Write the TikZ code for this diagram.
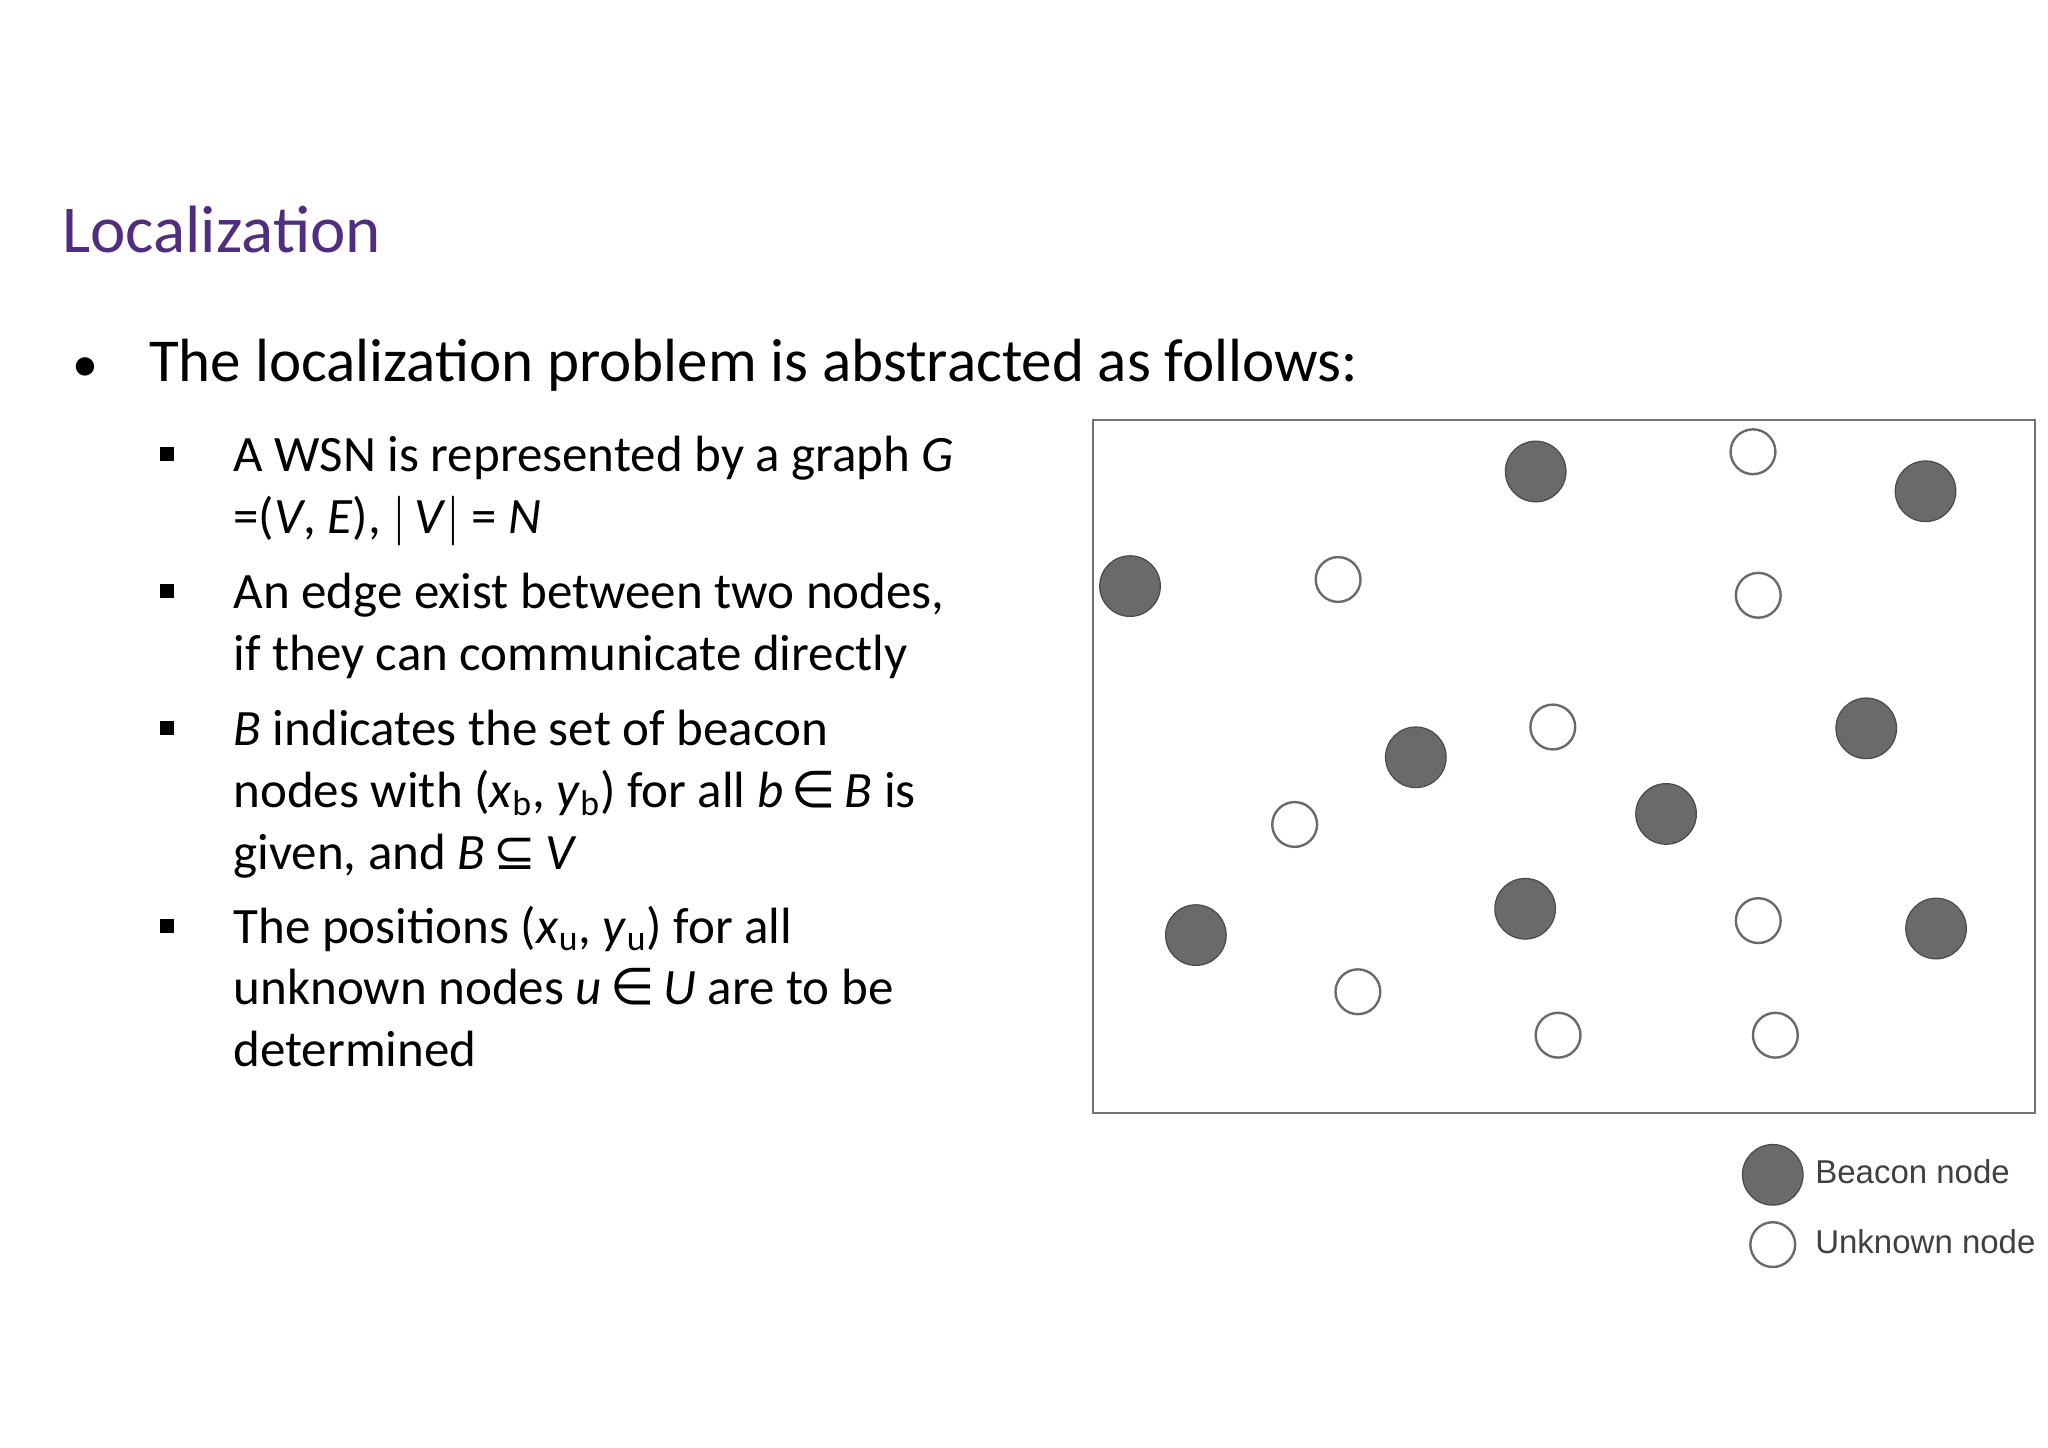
\documentclass[tikz,border=0pt]{standalone}
\usepackage{fontspec}
\setmainfont{Carlito}
\newfontfamily\arialf{Liberation Sans}
\newfontfamily\dejaf{DejaVu Sans}
\definecolor{titlec}{HTML}{4F2D7F}
\definecolor{beacon}{HTML}{6A6A6A}
\begin{document}
\begin{tikzpicture}[x=0.6585pt,y=-0.6585pt,
  txt/.style={anchor=base west,inner sep=0pt,font=\fontsize{25.5}{30}\selectfont},
  sq/.style={fill=black,minimum size=7pt,inner sep=0pt},
  bnode/.style={circle,fill=beacon,draw=beacon!70!black,line width=0.6pt,minimum size=30.3pt,inner sep=0pt},
  unode/.style={circle,fill=white,draw=beacon,line width=1.2pt,minimum size=22.4pt,inner sep=0pt},
  leg/.style={anchor=west,inner sep=0pt,font=\arialf\fontsize{16.5}{20}\selectfont,text=black!75}]
\useasboundingbox (0,0) rectangle (1555,1099);
\node[anchor=base west,inner sep=0pt,text=titlec,font=\fontsize{33.5}{40}\selectfont] (title) at (47,192) {Localization};
\node[anchor=base west,inner sep=0pt,font=\fontsize{26}{36}\selectfont] (b0) at (55,290) {\textbullet};
\node[anchor=base west,inner sep=0pt,font=\fontsize{30.5}{36}\selectfont] (main) at (113,290) {The localization problem is abstracted as follows:};
\foreach \y/\n in {345/s1,449/s2,553/s3,703/s4}{\node[sq] (\n) at (127,\y) {};}
\node[txt] (l1) at (177,358) {A WSN is represented by a graph \textit{G}};
\node[txt] (l2) at (177,405) {=(\textit{V}, \textit{E}), $|$\,\textit{V}$|$ = \textit{N}};
\node[txt] (l3) at (177,462) {An edge exist between two nodes,};
\node[txt] (l4) at (177,509) {if they can communicate directly};
\node[txt] (l5) at (177,566) {\textit{B} indicates the set of beacon};
\node[txt] (l6) at (177,613) {nodes with (\textit{x}\textsubscript{b}, \textit{y}\textsubscript{b}) for all \textit{b}\,{\dejaf ∈}\,\textit{B} is};
\node[txt] (l7) at (177,660) {given, and \textit{B}\,{\dejaf ⊆}\,\textit{V}};
\node[txt] (l8) at (177,716) {The positions (\textit{x}\textsubscript{u}, \textit{y}\textsubscript{u}) for all};
\node[txt] (l9) at (177,763) {unknown nodes \textit{u}\,{\dejaf ∈}\,\textit{U} are to be};
\node[txt] (l10) at (177,810) {determined};
\draw[draw=black!55,line width=1.3pt] (830,319) rectangle (1545,845);
\foreach \x/\y [count=\i] in {1166/358,1462/373,858/445,1075/575,1417/553,1265/618,908/710,1158/690,1470/705}
  \node[bnode] (bn\i) at (\x,\y) {};
\foreach \x/\y [count=\i] in {1331/343,1016/440,1335/452,1179/552,983/626,1335/699,1031/753,1183/786,1348/786}
  \node[unode] (un\i) at (\x,\y) {};
\node[bnode] (lb) at (1346,892) {};
\node[unode] (lu) at (1346,945) {};
\node[leg] (lbt) at (1378,890) {Beacon node};
\node[leg] (lut) at (1378,943) {Unknown node};
\end{tikzpicture}
\end{document}
